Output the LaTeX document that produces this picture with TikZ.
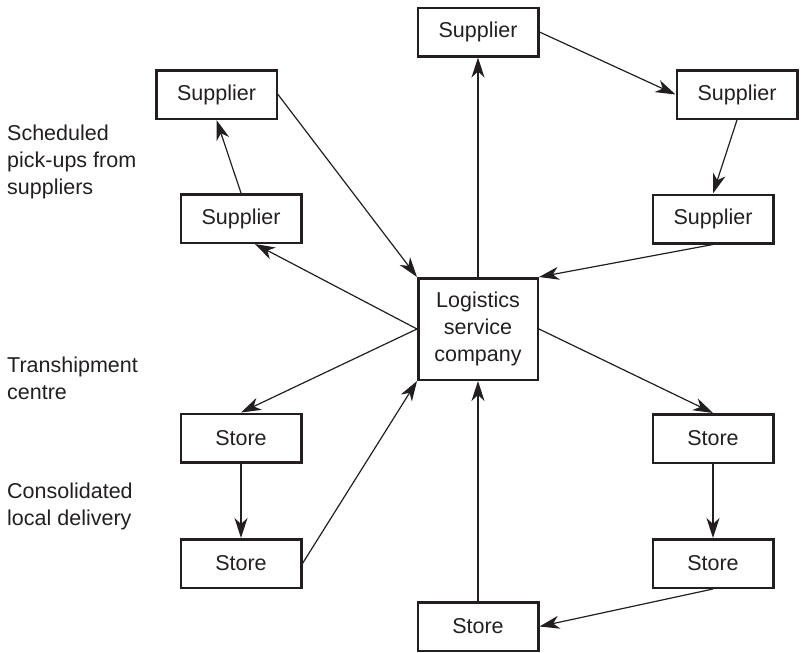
\documentclass[tikz,border=0pt]{standalone}
\usepackage{fontspec}
\setmainfont{Liberation Sans}
\usetikzlibrary{arrows.meta}
\definecolor{ink}{RGB}{35,31,32}
\begin{document}
\begin{tikzpicture}[x=1pt,y=-1pt,
        box/.style={draw=ink,line width=2.5pt,minimum width=120.5pt,minimum height=48.5pt,inner sep=0pt,text=ink,font=\fontsize{21.5}{27}\selectfont},
        hub/.style={box,minimum width=119.5pt,minimum height=101.5pt,align=center},
        side/.style={anchor=north west,inner sep=0pt,align=left,text=ink,font=\fontsize{21.5}{27}\selectfont},
        link/.style={draw=ink,line width=1.2pt,-{Stealth[length=20pt,width=13pt,inset=6pt]}}]
        \useasboundingbox (0,0) rectangle (804,653);
        \node [hub] (lsc) at (478,329) {Logistics\\service\\company};
        \node [box] (supA) at (478,32) {Supplier};
        \node [box] (supL1) at (216.5,94.5) {Supplier};
        \node [box] (supR1) at (737,94.5) {Supplier};
        \node [box] (supL2) at (241,218.5) {Supplier};
        \node [box] (supR2) at (713,219) {Supplier};
        \node [box] (stL1) at (241,438) {Store};
        \node [box] (stL2) at (241,563.5) {Store};
        \node [box] (stR1) at (713,438.5) {Store};
        \node [box] (stR2) at (713,563.5) {Store};
        \node [box] (stB) at (478,626.5) {Store};
        \node [side] (lblpick) at (7,125) {Scheduled\\pick-ups from\\suppliers};
        \node [side] (lbltrans) at (7,357) {Transhipment\\centre};
        \node [side] (lblcons) at (7,483) {Consolidated\\local delivery};
        \draw [link] (lsc.north) -- (supA.south);
        \draw [link] (supL1.east) -- (lsc.north west);
        \draw [link] (supL2.north) -- (supL1.south);
        \draw [link] (lsc.west) -- ([xshift=14pt]supL2.south);
        \draw [link] (lsc.west) -- (stL1.north);
        \draw [link] (stL1.south) -- (stL2.north);
        \draw [link] (stL2.east) -- (lsc.south west);
        \draw [link] (stB.north) -- (lsc.south);
        \draw [link] (stR2.south) -- (stB.east);
        \draw [link] (stR1.south) -- (stR2.north);
        \draw [link] (lsc.east) -- (stR1.north);
        \draw [link] (supR2.south) -- (lsc.north east);
        \draw [link] (supR1.south) -- (supR2.north);
        \draw [link] (supA.east) -- (supR1.west);
\end{tikzpicture}
\end{document}
